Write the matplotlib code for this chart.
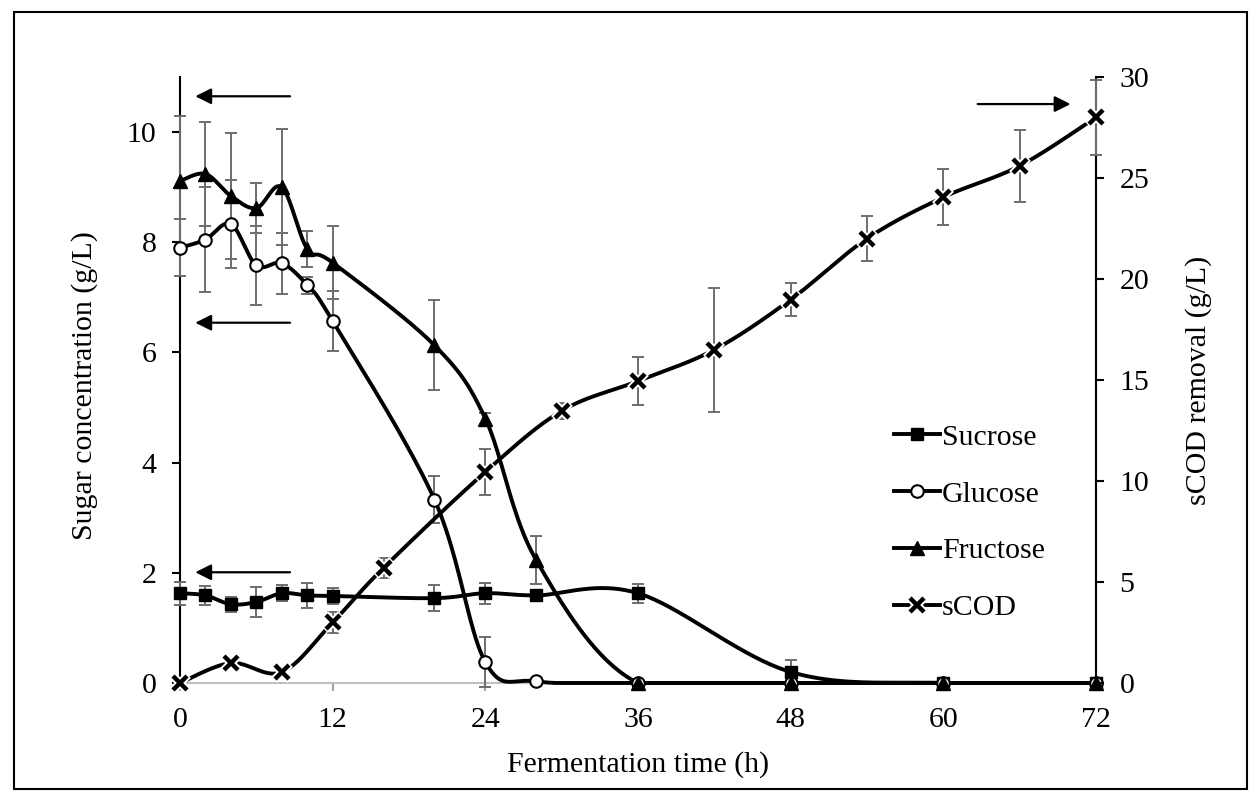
"""
Sugar consumption and sCOD removal during fermentation
"""

import numpy as np
import matplotlib
matplotlib.use('Agg')
import matplotlib.pyplot as plt
from matplotlib.lines import Line2D
from matplotlib.patches import Rectangle
from matplotlib.legend_handler import HandlerTuple

# data
time_sugar = [0, 2, 4, 6, 8, 10, 12, 20, 24, 28, 36, 48, 60, 72]
sucrose = [1.63, 1.59, 1.43, 1.47, 1.63, 1.59, 1.58, 1.54, 1.63, 1.59, 1.63, 0.20, 0, 0]
sucrose_err = [0.21, 0.17, 0.14, 0.27, 0.14, 0.22, 0.14, 0.23, 0.19, 0.10, 0.17, 0.22, 0, 0]
glucose = [7.90, 8.05, 8.33, 7.58, 7.62, 7.22, 6.57, 3.33, 0.38, 0.03, 0, 0, 0, 0]
glucose_err = [0.52, 0.95, 0.80, 0.72, 0.55, 0.15, 0.55, 0.42, 0.45, 0, 0, 0, 0, 0]
fructose = [9.11, 9.24, 8.84, 8.62, 9.00, 7.88, 7.63, 6.13, 4.80, 2.23, 0, 0, 0, 0]
fructose_err = [1.18, 0.95, 1.15, 0.45, 1.05, 0.33, 0.66, 0.82, 0.10, 0.43, 0, 0, 0, 0]

time_scod = [0, 4, 8, 12, 16, 24, 30, 36, 42, 48, 54, 60, 66, 72]
scod = [0, 0.99, 0.54, 3.0, 5.7, 10.45, 13.47, 14.95, 16.5, 18.98, 22.0, 24.05, 25.6, 28.0]
scod_err = [0, 0, 0, 0.5, 0.5, 1.15, 0.4, 1.2, 3.07, 0.82, 1.1, 1.38, 1.8, 1.85]

x_ticks = [0, 12, 24, 36, 48, 60, 72]

plt.rcParams['font.family'] = ['Liberation Serif', 'DejaVu Serif']
fs = 21.5
ebar_col = '#6e6e6e'


def smooth(x, y, n=40):
    # excel-like smoothed line (bezier through the points), kept above the x axis
    pts = np.column_stack([x, y]).astype(float)
    out = [pts[0]]
    t = np.linspace(0, 1, n)[1:, None]
    for i in range(len(pts) - 1):
        p0 = pts[i - 1] if i > 0 else pts[i]
        p1 = pts[i]
        p2 = pts[i + 1]
        p3 = pts[i + 2] if i + 2 < len(pts) else pts[i + 1]
        c1 = p1 + (p2 - p0) / 6
        c2 = p2 - (p3 - p1) / 6
        seg = (1 - t)**3 * p1 + 3 * (1 - t)**2 * t * c1 + 3 * (1 - t) * t**2 * c2 + t**3 * p2
        out.extend(seg)
    out = np.array(out)
    return out[:, 0], np.clip(out[:, 1], 0, None)


def err_bars(ax, x, y, e):
    x = np.array(x, float); y = np.array(y, float); e = np.array(e, float)
    m = e > 0
    ax.errorbar(x[m], y[m], yerr=e[m], fmt='none', ecolor=ebar_col,
                elinewidth=1.4, capsize=4.5, capthick=1.4, zorder=3, clip_on=False)


fig = plt.figure(figsize=(12.59, 8.02), dpi=100)
ax = fig.add_axes([180 / 1259, 1 - 683 / 802, 916 / 1259, 606 / 802])
ax2 = ax.twinx()

lw = 2.8
# sugars on the left axis
err_bars(ax, time_sugar, sucrose, sucrose_err)
err_bars(ax, time_sugar, glucose, glucose_err)
err_bars(ax, time_sugar, fructose, fructose_err)

for yv in (sucrose, glucose, fructose):
    sx, sy = smooth(time_sugar, yv)
    ax.plot(sx, sy, color='black', lw=lw, zorder=4, clip_on=False)

# drawing order as in the original: sucrose, glucose, then fructose on top
ax.plot(time_sugar, sucrose, ls='none', marker='s', ms=9, color='black', zorder=5, clip_on=False)
ax.plot(time_sugar, glucose, ls='none', marker='o', ms=9, mfc='white', mec='black', mew=1.5,
        zorder=5.5, clip_on=False)
ax.plot(time_sugar, fructose, ls='none', marker='^', ms=10.5, color='black', zorder=6, clip_on=False)

# sCOD on the right axis
err_bars(ax2, time_scod, scod, scod_err)
sx, sy = smooth(time_scod, scod)
ax2.plot(sx, sy, color='black', lw=lw, zorder=4, clip_on=False)
ax2.plot(time_scod, scod, ls='none', marker='x', ms=11, mew=6, color='white', zorder=5, clip_on=False)
ax2.plot(time_scod, scod, ls='none', marker='x', ms=10, mew=3.2, color='black', zorder=6, clip_on=False)

# axes styling
ax.set_xlim(0, 72)
ax.set_ylim(0, 11)
ax2.set_ylim(0, 30)
ax.set_xticks(x_ticks)
ax.set_yticks([0, 2, 4, 6, 8, 10])
ax2.set_yticks([0, 5, 10, 15, 20, 25, 30])

for a in (ax, ax2):
    a.spines['top'].set_visible(False)
    a.patch.set_visible(False)
ax.spines['right'].set_visible(False)
ax2.spines['left'].set_visible(False)
ax2.spines['bottom'].set_visible(False)
ax.spines['left'].set_linewidth(1.5)
ax2.spines['right'].set_linewidth(1.5)
ax.spines['bottom'].set_color('#c0c0c0')
ax.spines['bottom'].set_linewidth(1.5)

ax.tick_params(axis='y', direction='out', length=6, width=1.5, labelsize=fs, pad=11)
ax2.tick_params(axis='y', direction='out', length=6, width=1.5, labelsize=fs, pad=11)
ax.tick_params(axis='x', direction='out', length=6, width=1.5, color='#a0a0a0',
               labelsize=fs, pad=11)

ax.set_xlabel('Fermentation time (h)', fontsize=fs)
ax.set_ylabel('Sugar concentration (g/L)', fontsize=fs)
ax2.set_ylabel('sCOD removal (g/L)', fontsize=fs)
ax.xaxis.set_label_coords(0.5, -0.113)
ax.yaxis.set_label_coords(-0.09, 0.49)
ax2.yaxis.set_label_coords(1.097, 0.5)

# arrows pointing to the axes
ap = dict(arrowstyle='-|>', color='black', lw=1.6, mutation_scale=24, shrinkA=0, shrinkB=0)
for yl in (10.65, 6.54, 2.01):
    ax.annotate('', xy=(1.2, yl), xytext=(8.65, yl), arrowprops=ap, zorder=7)
ax2.annotate('', xy=(70.0, 28.66), xytext=(62.7, 28.66), arrowprops=ap, zorder=7)

# legend
h_suc = Line2D([], [], color='black', lw=lw, marker='s', ms=9)
h_glu = Line2D([], [], color='black', lw=lw, marker='o', ms=9, mfc='white', mec='black', mew=1.5)
h_fru = Line2D([], [], color='black', lw=lw, marker='^', ms=10.5)
h_cod = (Line2D([], [], color='black', lw=lw),
         Line2D([], [], ls='none', marker='x', ms=11, mew=6, color='white'),
         Line2D([], [], ls='none', marker='x', ms=10, mew=3.2, color='black'))
fig.legend([h_suc, h_glu, h_fru, h_cod], ['Sucrose', 'Glucose', 'Fructose', 'sCOD'],
           handler_map={tuple: HandlerTuple(ndivide=1, pad=0)},
           loc='upper left', bbox_to_anchor=(894 / 1259, 1 - 424 / 802),
           frameon=False, fontsize=fs, handlelength=1.55, handletextpad=0.05,
           labelspacing=1.0, borderpad=0, borderaxespad=0)

# border round the whole picture
fig.patches.append(Rectangle((14 / 1259, 1 - 789 / 802), 1233 / 1259, 777 / 802,
                             transform=fig.transFigure, fill=False, ec='black', lw=1.5))

fig.savefig('out.png', dpi=100)
